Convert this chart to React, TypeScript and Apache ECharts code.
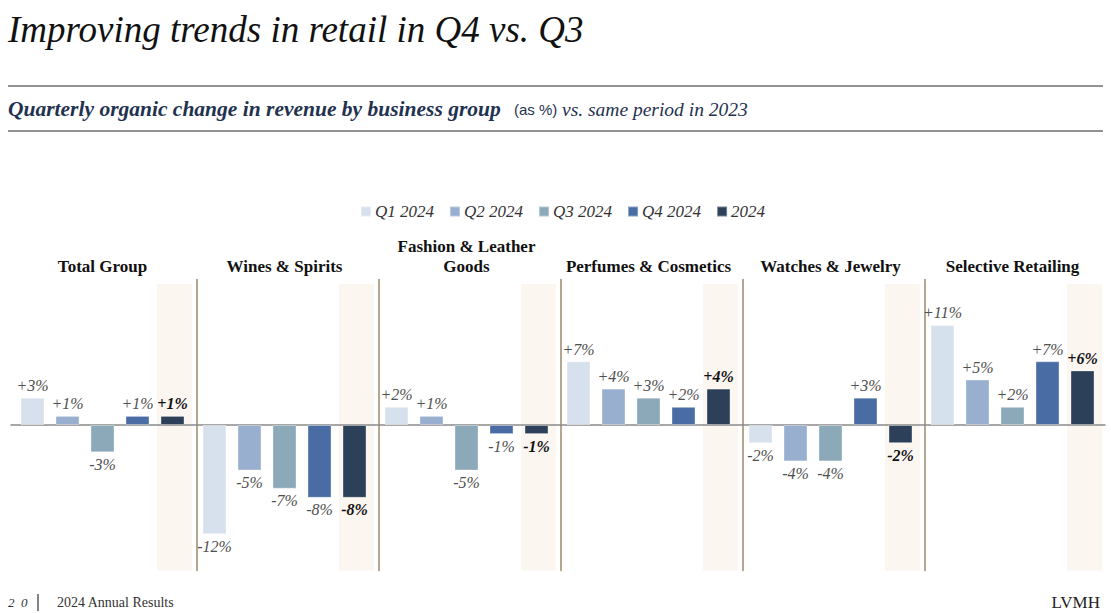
import React, { useEffect, useRef } from "react";
import * as echarts from "echarts";

const groups = [
  "Total Group",
  "Wines & Spirits",
  "Fashion & Leather\nGoods",
  "Perfumes & Cosmetics",
  "Watches & Jewelry",
  "Selective Retailing",
];
const periods = ["Q1 2024", "Q2 2024", "Q3 2024", "Q4 2024", "2024"];
const q1 = [3, -12, 2, 7, -2, 11];
const q2 = [1, -5, 1, 4, -4, 5];
const q3 = [-3, -7, -5, 3, -4, 2];
const q4 = [1, -8, -1, 2, 3, 7];
const fy = [1, -8, -1, 4, -2, 6];
const seriesValues = [q1, q2, q3, q4, fy];
const colors = ["#d7e1ed", "#98afd0", "#8ba9b9", "#4a6ca4", "#2d4059"];
const yMin = -16;
const yMax = 16;
const bandTop = 15.5;

const SERIF = "'Liberation Serif', 'DejaVu Serif', serif";

const fmt = (v: number) => (v > 0 ? "+" + v + "%" : v + "%");

export default function App() {
  const ref = useRef<HTMLDivElement>(null);
  useEffect(() => {
    if (!ref.current) return;
    const chart = echarts.init(ref.current, undefined, { renderer: "svg" });
    const G0 = 15;
    const GW = 182;
    const CW = 175;
    const top = 279.4;
    const height = 291.2;

    const grids: any[] = [];
    const xAxes: any[] = [];
    const yAxes: any[] = [];
    const series: any[] = [];

    groups.forEach((g, k) => {
      grids.push({ left: G0 + GW * k, top, width: CW, height });
      xAxes.push({
        type: "category",
        gridIndex: k,
        data: periods,
        axisLine: { show: false },
        axisTick: { show: false },
        axisLabel: { show: false },
        splitLine: { show: false },
      });
      yAxes.push({
        type: "value",
        gridIndex: k,
        min: yMin,
        max: yMax,
        axisLine: {
          show: k > 0,
          onZero: false,
          lineStyle: { color: "#9c8a6a", width: 1.5 },
        },
        axisTick: { show: false },
        axisLabel: { show: false },
        splitLine: { show: false },
      });
      // highlight band for full year
      series.push({
        type: "custom",
        xAxisIndex: k,
        yAxisIndex: k,
        silent: true,
        z: 0,
        data: [[4, bandTop, yMin]],
        encode: { x: 0, y: [1, 2] },
        renderItem: (params: any, api: any) => {
          const p1 = api.coord([api.value(0), api.value(1)]);
          const p2 = api.coord([api.value(0), api.value(2)]);
          const w = api.size([1, 0])[0];
          return {
            type: "rect",
            shape: { x: p1[0] - w / 2 + 2, y: p1[1], width: w, height: p2[1] - p1[1] },
            style: { fill: "#fcf6f1" },
          };
        },
      });
      periods.forEach((p, i) => {
        const v = seriesValues[i][k];
        const data = periods.map((_, j) =>
          j === i ? { value: v, label: { position: v < 0 ? "bottom" : "top" } } : "-"
        );
        const bold = i === 4;
        series.push({
          type: "bar",
          name: p,
          xAxisIndex: k,
          yAxisIndex: k,
          stack: "s" + k,
          barWidth: 24,
          z: 2,
          itemStyle: {
            color: colors[i],
            borderColor: "rgba(255,255,255,0.35)",
            borderWidth: 1,
          },
          label: {
            show: true,
            distance: 4,
            formatter: (pp: any) => fmt(pp.value),
            fontFamily: SERIF,
            fontStyle: "italic",
            fontSize: 16,
            fontWeight: bold ? "bold" : "normal",
            color: bold ? "#111111" : "#4f4f4f",
          },
          data,
        });
      });
    });

    // full-width zero line
    const zi = groups.length;
    grids.push({ left: 11, top, width: 1094, height });
    xAxes.push({
      type: "category",
      gridIndex: zi,
      data: [""],
      axisLine: { show: true, onZero: true, lineStyle: { color: "#8a8a8a", width: 1.5 } },
      axisTick: { show: false },
      axisLabel: { show: false },
      splitLine: { show: false },
    });
    yAxes.push({
      type: "value",
      gridIndex: zi,
      min: yMin,
      max: yMax,
      show: false,
      splitLine: { show: false },
    });

    const graphic: any[] = [
      {
        type: "text",
        x: 8,
        y: 29,
        style: {
          text: "Improving trends in retail in Q4 vs. Q3",
          font: "italic 37px " + SERIF,
          fill: "#111111",
          verticalAlign: "middle",
        },
      },
      { type: "line", shape: { x1: 8, y1: 86, x2: 1103, y2: 86 }, style: { stroke: "#6e6e6e", lineWidth: 1.5 } },
      { type: "line", shape: { x1: 8, y1: 131, x2: 1103, y2: 131 }, style: { stroke: "#6e6e6e", lineWidth: 1.5 } },
      {
        type: "text",
        x: 8,
        y: 109,
        style: {
          text: "Quarterly organic change in revenue by business group",
          font: "italic bold 21.5px " + SERIF,
          fill: "#1f3250",
          verticalAlign: "middle",
        },
      },
      {
        type: "text",
        x: 514,
        y: 109,
        style: {
          text: "(as %)",
          font: "15px 'Liberation Sans', sans-serif",
          fill: "#1f3250",
          verticalAlign: "middle",
        },
      },
      {
        type: "text",
        x: 562,
        y: 109,
        style: {
          text: "vs. same period in 2023",
          font: "italic 19.5px " + SERIF,
          fill: "#1f3250",
          verticalAlign: "middle",
        },
      },
      {
        type: "text",
        x: 8,
        y: 602,
        style: { text: "2  0", font: "italic 13px " + SERIF, fill: "#333333", verticalAlign: "middle" },
      },
      { type: "line", shape: { x1: 38, y1: 594, x2: 38, y2: 611 }, style: { stroke: "#333333", lineWidth: 1.2 } },
      {
        type: "text",
        x: 57,
        y: 602,
        style: {
          text: "2024 Annual Results",
          font: "14px " + SERIF,
          fill: "#333333",
          verticalAlign: "middle",
        },
      },
      {
        type: "text",
        x: 1100,
        y: 602,
        style: { text: "LVMH", font: "17px " + SERIF, fill: "#222222", align: "right", verticalAlign: "middle" },
      },
    ];
    groups.forEach((g, k) => {
      graphic.push({
        type: "text",
        x: G0 + GW * k + CW / 2,
        y: 276,
        style: {
          text: g,
          font: "bold 17px " + SERIF,
          fill: "#111111",
          align: "center",
          verticalAlign: "bottom",
          lineHeight: 20,
        },
      });
    });

    chart.setOption({
      animation: false,
      backgroundColor: "#ffffff",
      legend: {
        data: periods,
        left: 355,
        top: 198,
        icon: "rect",
        itemWidth: 10,
        itemHeight: 10,
        itemGap: 15,
        selectedMode: false,
        textStyle: {
          fontFamily: SERIF,
          fontStyle: "italic",
          fontSize: 17,
          color: "#333333",
          padding: [0, 0, 0, -1],
        },
      },
      grid: grids,
      xAxis: xAxes,
      yAxis: yAxes,
      series,
      graphic,
    });
    return () => chart.dispose();
  }, []);
  return (
    <div
      ref={ref}
      style={{ position: "fixed", left: 0, top: 0, width: 1111, height: 613 }}
    />
  );
}
